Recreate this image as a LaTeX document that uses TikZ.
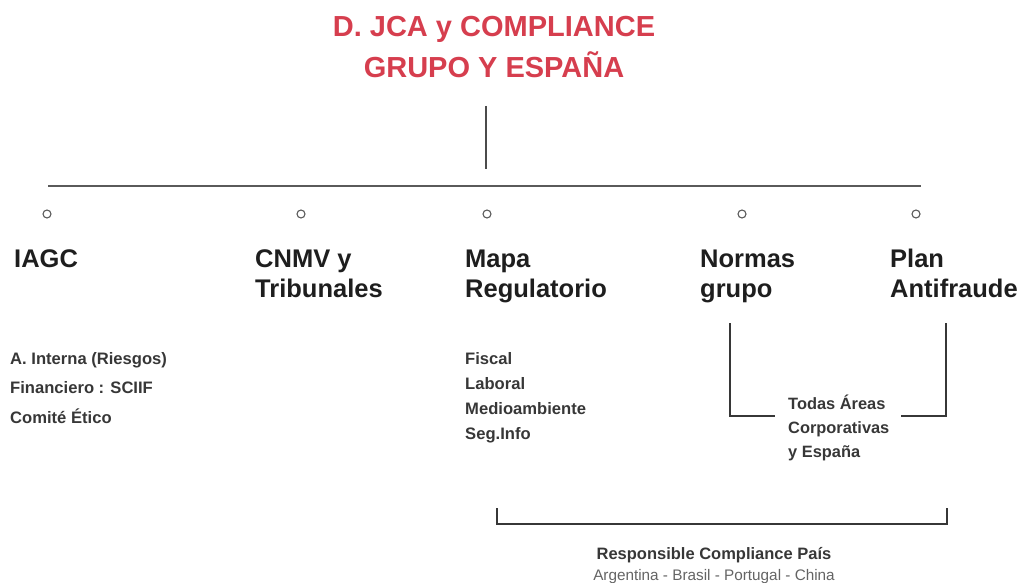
\documentclass[tikz,border=0pt]{standalone}
\usepackage{fontspec}
\setmainfont{Liberation Sans}
\usepackage{tikz}
\usetikzlibrary{positioning, calc}

\definecolor{titlered}{RGB}{214,62,78}
\definecolor{bargray}{RGB}{90,90,90}
\definecolor{headdark}{RGB}{30,30,30}
\definecolor{itemgray}{RGB}{55,55,55}
\definecolor{countrygray}{RGB}{100,100,100}

\tikzset{
	headbox/.style = {anchor = base west, inner sep = 0pt, text = headdark, font = \fontsize{25.5}{30}\selectfont\bfseries},
	itembox/.style = {anchor = base west, inner sep = 0pt, text = itemgray, font = \fontsize{16.6}{25}\selectfont\bfseries},
	dotmark/.style = {circle, draw = bargray, line width = 1.1pt, minimum size = 8pt, inner sep = 0pt},
	bar/.style = {draw = bargray, line width = 2pt},
	bracket/.style = {draw = itemgray, line width = 1.5pt}
}

\begin{document}
\begin{tikzpicture}[x = 1pt, y = -1pt]
	\useasboundingbox (0,0) rectangle (1023,583);

	% title
	\node[anchor = base, inner sep = 0pt, text = titlered, font = \fontsize{29}{41}\selectfont\bfseries] (title) at (494,37) {\begin{tabular}[t]{@{}c@{}}
			D. JCA y COMPLIANCE \\
			GRUPO Y ESPAÑA
	\end{tabular}};

	\coordinate (stemtop) at (486,106);
	\coordinate (stembot) at (486,169);
	\coordinate (barL) at (48,186);
	\coordinate (barR) at (921,186);
	\draw[bar, draw = headdark!80] (stemtop) -- (stembot);
	\draw[bar] (barL) -- (barR);

	% dots
	\node[dotmark] (dotiagc) at (47,214) {};
	\node[dotmark] (dotcnmv) at (301,214) {};
	\node[dotmark] (dotmapa) at (487,214) {};
	\node[dotmark] (dotnormas) at (742,214) {};
	\node[dotmark] (dotplan) at (916,214) {};

	% headings
	\node[headbox] (iagc) at (14,267) {IAGC};
	\node[headbox] (cnmv) at (255,267) {\begin{tabular}[t]{@{}l@{}}CNMV y \\ Tribunales\end{tabular}};
	\node[headbox] (mapa) at (465,267) {\begin{tabular}[t]{@{}l@{}}Mapa \\ Regulatorio\end{tabular}};
	\node[headbox] (normas) at (700,267) {\begin{tabular}[t]{@{}l@{}}Normas \\ grupo\end{tabular}};
	\node[headbox] (plan) at (890,267) {\begin{tabular}[t]{@{}l@{}}Plan \\ Antifraude\end{tabular}};

	% lists
	\node[itembox, font = \fontsize{16.6}{29.5}\selectfont\bfseries] (iagclist) at (10,364) {\begin{tabular}[t]{@{}l@{}}
			A. Interna (Riesgos) \\
			Financiero : SCIIF \\
			Comité Ético
	\end{tabular}};
	\node[itembox] (mapalist) at (465,364) {\begin{tabular}[t]{@{}l@{}}
			Fiscal \\
			Laboral \\
			Medioambiente \\
			Seg.Info
	\end{tabular}};
	\node[itembox, font = \fontsize{16.4}{24}\selectfont\bfseries] (areas) at (788,409) {\begin{tabular}[t]{@{}l@{}}
			Todas Áreas \\
			Corporativas \\
			y España
	\end{tabular}};

	% bracket under Normas and Plan
	\coordinate (brNtop) at (730,323);
	\coordinate (brNend) at (775,416);
	\coordinate (brPtop) at (946,323);
	\coordinate (brPend) at (901,416);
	\draw[bracket] (brNtop) |- (brNend);
	\draw[bracket] (brPtop) |- (brPend);

	% bottom bracket
	\coordinate (brBL) at (497,508);
	\coordinate (brBR) at (947,508);
	\draw[bracket] (brBL) -- ++(0,16) -| (brBR);

	\node[anchor = base, inner sep = 0pt, text = itemgray, font = \fontsize{16.5}{20}\selectfont\bfseries] (resp) at (714,559) {Responsible Compliance País};
	\node[anchor = base, inner sep = 0pt, text = countrygray, font = \fontsize{15.3}{20}\selectfont] (countries) at (714,580) {Argentina - Brasil - Portugal - China};
\end{tikzpicture}
\end{document}
